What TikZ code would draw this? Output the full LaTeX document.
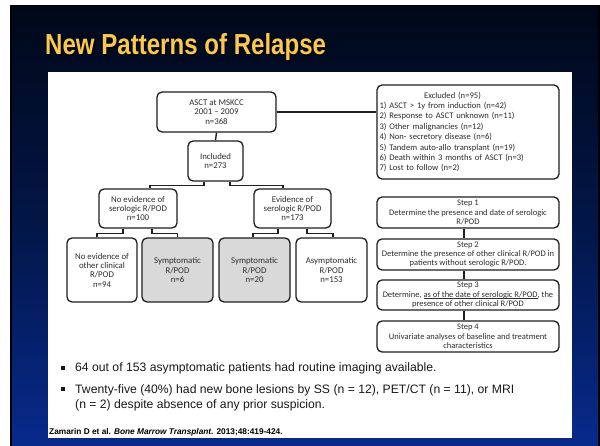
\documentclass[tikz,border=0pt]{standalone}
\usepackage{fontspec}
\setmainfont{Carlito}
\newfontfamily\arialfont{Liberation Sans}
\newfontfamily\titlefont[FakeStretch=0.83]{Liberation Sans}
\usetikzlibrary{calc}

\definecolor{slidetop}{RGB}{0,8,24}
\definecolor{slidemid}{RGB}{2,22,72}
\definecolor{slidebot}{RGB}{8,42,140}
\definecolor{titlegold}{RGB}{250,200,80}
\definecolor{boxline}{RGB}{30,30,30}
\definecolor{boxtext}{RGB}{45,45,45}
\definecolor{boxgray}{RGB}{217,217,217}

% underline that does not change the line's depth
\newcommand\flatuline[1]{\setbox0\hbox{#1}\rlap{\rule[-1.4pt]{\wd0}{0.5pt}}\box0}

\tikzset{
  flowbox/.style={draw=boxline, line width=1.3pt, rounded corners=5pt,
    text=boxtext, align=center, inner sep=1pt,
    font=\fontsize{8.8}{9.3}\selectfont},
  stepbox/.style={flowbox, minimum width=182pt, font=\fontsize{8.5}{9.3}\selectfont},
  grayfill/.style={fill=boxgray},
  link/.style={draw=boxline, line width=1.4pt},
  bullettext/.style={anchor=base west, inner sep=0pt, text=black!90,
    font=\arialfont\fontsize{12.2}{15}\selectfont},
}

\begin{document}
\begin{tikzpicture}[x=1pt, y=-1pt]
\useasboundingbox (0,0) rectangle (600,446);
\fill[white] (0,0) rectangle (600,446);

% slide background
\fill[black] (10,5) rectangle (600,446);
\shade[top color=slidetop, bottom color=slidebot, middle color=slidemid]
  (12,7) rectangle (598,446);

% title with drop shadow
\node[anchor=base west, inner sep=0pt, text=black,
  font=\titlefont\bfseries\fontsize{29}{34}\selectfont]
  at (46.5,56.5) {New Patterns of Relapse};
\node[anchor=base west, inner sep=0pt, text=titlegold,
  font=\titlefont\bfseries\fontsize{29}{34}\selectfont]
  (title) at (45,55) {New Patterns of Relapse};

% white content panel
\fill[white] (48,72) rectangle (572,438);

% patient flow
\node[flowbox, minimum width=119pt, minimum height=40pt] (asct) at (216.5,112)
  {ASCT at MSKCC\\2001 – 2009\\n=368};
\node[flowbox, minimum width=182pt, minimum height=94pt, text width=177pt,
  inner xsep=2.5pt, align=left, font=\fontsize{8.6}{10.4}\selectfont] (excl) at (468,132)
  {\makebox[146pt][c]{Excluded (n=95)}\\
   1) ASCT > 1y from induction (n=42)\\
   2) Response to ASCT unknown (n=11)\\
   3) Other malignancies (n=12)\\
   4) Non- secretory disease (n=6)\\
   5) Tandem auto-allo transplant (n=19)\\
   6) Death within 3 months of ASCT (n=3)\\
   7) Lost to follow (n=2)};
\node[flowbox, minimum width=55pt, minimum height=40pt] (incl) at (215.5,161)
  {Included\\n=273};
\node[flowbox, minimum width=78pt, minimum height=39pt] (noev) at (138,208.5)
  {No evidence of\\serologic R/POD\\n=100};
\node[flowbox, minimum width=77pt, minimum height=39pt] (ev) at (292.5,208.5)
  {Evidence of\\serologic R/POD\\n=173};
\node[flowbox, minimum width=70pt, minimum height=64pt] (noclin) at (102,270)
  {No evidence of\\other clinical\\R/POD\\n=94};
\node[flowbox, grayfill, minimum width=71pt, minimum height=64pt] (symA) at (177.5,270)
  {Symptomatic\\R/POD\\n=6};
\node[flowbox, grayfill, minimum width=71pt, minimum height=64pt] (symB) at (254.5,270)
  {Symptomatic\\R/POD\\n=20};
\node[flowbox, minimum width=71pt, minimum height=64pt] (asym) at (331.5,270)
  {Asymptomatic\\R/POD\\n=153};

\draw[link] (asct.south) -- (incl.north);
\draw[link] (asct.east) -- (excl.west |- asct.east);
\draw[link] ($(incl.south)+(-11.5,0)$) -- ++(0,4) -| ($(noev.north)+(12,0)$);
\draw[link] ($(incl.south)+(14.5,0)$) -- ++(0,4) -| ($(ev.north)+(-9.5,0)$);
\draw[link] ($(noev.south)+(-15,0)$) -- ++(0,5) -| ($(noclin.north)+(-5,0)$);
\draw[link] ($(noev.south)+(14,0)$) -- ++(0,5) -| (symA.north);
\draw[link] ($(ev.south)+(-14.5,0)$) -- ++(0,5) -| ($(symB.north)+(-1.5,0)$);
\draw[link] ($(ev.south)+(14.5,0)$) -- ++(0,5) -| ($(asym.north)+(1.5,0)$);

% analysis steps
\node[stepbox, minimum height=31pt] (s1) at (468,212.5)
  {Step 1\\Determine the presence and date of serologic\\R/POD};
\node[stepbox, minimum height=31pt] (s2) at (468,254.5)
  {Step 2\\Determine the presence of other clinical R/POD in\\patients without serologic R/POD.};
\node[stepbox, minimum height=30pt] (s3) at (468,295)
  {Step 3\\Determine, \flatuline{as of the date of serologic R/POD}, the\\presence of other clinical R/POD};
\node[stepbox, minimum height=31pt] (s4) at (468,336.5)
  {Step 4\\Univariate analyses of baseline and treatment\\characteristics};

\draw[link] ($(s1.south)+(-4,0)$) -- ($(s2.north)+(-4,0)$);
\draw[link] ($(s2.south)+(-4,0)$) -- ($(s3.north)+(-4,0)$);
\draw[link] ($(s3.south)+(-4,0)$) -- ($(s4.north)+(-4,0)$);

% findings
\fill[black!90] (61,366) rectangle (65,370);
\fill[black!90] (61,387) rectangle (65,391);
\node[bullettext] (b1) at (75,372)
  {64 out of 153 asymptomatic patients had routine imaging available.};
\node[bullettext] (b2) at (75,393)
  {Twenty-five (40\%) had new bone lesions by SS (n = 12), PET/CT (n = 11), or MRI};
\node[bullettext] (b2b) at (75,408)
  {(n = 2) despite absence of any prior suspicion.};

% reference
\node[anchor=base west, inner sep=0pt, text=black,
  font=\arialfont\bfseries\fontsize{8.3}{10}\selectfont] (cite) at (49,434)
  {Zamarin D et al. \textit{Bone Marrow Transplant}. 2013;48:419-424.};
\end{tikzpicture}
\end{document}
